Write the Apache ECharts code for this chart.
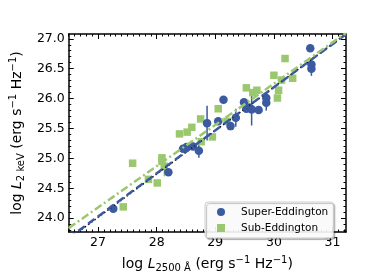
<!DOCTYPE html>
<html><head><meta charset="utf-8">
<script src="https://cdn.jsdelivr.net/npm/echarts@6/dist/echarts.min.js"></script>
<style>html,body{margin:0;padding:0;background:#fff}#c{width:383px;height:278px}</style>
</head><body><div id="c"></div>
<script>
// Super-Eddington sample
const superX   = [27.26, 28.20, 28.45, 28.51, 28.62, 28.72, 28.86, 29.05, 29.14, 29.26, 29.35, 29.49, 29.53, 29.58, 29.62, 29.74, 29.87, 29.87, 30.62, 30.64, 30.64];
const superY   = [24.16, 24.77, 25.16, 25.19, 25.20, 25.13, 25.59, 25.62, 25.98, 25.54, 25.68, 25.94, 25.83, 25.85, 25.82, 25.81, 25.93, 26.01, 26.84, 26.57, 26.50];
const superErr = [0,     0,     0,     0,     0,     0.12,  0.29,  0,     0,     0,     0.15,  0,     0,     0,     0.27,  0,     0.13,  0,     0,     0,     0.12];
// Sub-Eddington sample
const subX   = [27.43, 27.59, 27.86, 28.01, 28.09, 28.09, 28.13, 28.39, 28.52, 28.60, 28.75, 28.76, 28.95, 29.05, 29.20, 29.53, 29.64, 29.71, 30.00, 30.06, 30.08, 30.13, 30.19, 30.32];
const subY   = [24.19, 24.92, 24.65, 24.59, 25.01, 24.95, 24.87, 25.41, 25.44, 25.52, 25.66, 25.28, 25.36, 25.83, 25.62, 26.18, 26.10, 26.14, 26.39, 26.01, 26.14, 26.31, 26.67, 26.34];
const subErr = [0,     0,     0,     0,     0,     0,     0.17,  0,     0,     0,     0,     0,     0,     0,     0,     0,     0,     0,     0,     0,     0,     0,     0,     0];
// regression lines: [slope, value at x=29]
const fitAll   = [0.725, 25.465];
const fitSuper = [0.72, 25.47];
const fitSub   = [0.69, 25.56];
// ticks
const xTicks = [27, 28, 29, 30, 31];
const yTicks = [24.0, 24.5, 25.0, 25.5, 26.0, 26.5, 27.0];

const X_MIN = 26.5, X_MAX = 31.23, Y_MIN = 23.77, Y_MAX = 27.08;
const BLUE = '#3B5AA0', GREEN = '#9BC86E';
const FONT = 'DejaVu Sans';

function minorList(lo, hi, step, majors) {
  const out = [];
  for (let k = Math.ceil(lo / step - 1e-9); k * step <= hi + 1e-9; k++) {
    const v = Math.round(k * step * 100) / 100;
    if (!majors.some(m => Math.abs(m - v) < 1e-6)) out.push(v);
  }
  return out;
}
const xMinor = minorList(X_MIN, X_MAX, 0.1, xTicks);
const yMinor = minorList(Y_MIN, Y_MAX, 0.1, yTicks);

const rich = {
  n: {fontSize: 14, fontFamily: FONT, color: '#000', lineHeight: 18},
  i: {fontSize: 14, fontFamily: FONT, fontStyle: 'italic', color: '#000', lineHeight: 18},
  s: {fontSize: 10, fontFamily: FONT, color: '#000', lineHeight: 10, verticalAlign: 'bottom'},
  p: {fontSize: 10, fontFamily: FONT, color: '#000', lineHeight: 10, verticalAlign: 'top'}
};

function mkAxis(pos, min, max, ticks, len, major, extra) {
  const a = {
    type: 'value', position: pos, min: min, max: max,
    axisLine: {show: major, lineStyle: {color: '#000', width: 1.5}},
    axisTick: {show: true, inside: true, length: len, customValues: ticks, lineStyle: {color: '#000', width: 1}},
    axisLabel: {show: false},
    splitLine: {show: false}
  };
  return Object.assign(a, extra || {});
}

const xAxes = [
  mkAxis('bottom', X_MIN, X_MAX, xTicks, 5, true, {
    axisLabel: {show: true, customValues: xTicks, fontSize: 12.5, fontFamily: FONT, color: '#000', margin: 4},
    name: '{n|log }{i|L}{s|2500 Å}{n| (erg s}{p|−1}{n| Hz}{p|−1}{n|)}',
    nameLocation: 'middle', nameGap: 23, nameTextStyle: {rich: rich}
  }),
  mkAxis('bottom', X_MIN, X_MAX, xMinor, 2.5, false),
  mkAxis('top', X_MIN, X_MAX, xTicks, 5, true),
  mkAxis('top', X_MIN, X_MAX, xMinor, 2.5, false)
];
const yAxes = [
  mkAxis('left', Y_MIN, Y_MAX, yTicks, 5, true, {
    axisLabel: {show: true, customValues: yTicks, fontSize: 12.5, fontFamily: FONT, color: '#000', margin: 4,
      formatter: v => Number(v).toFixed(1)},
    name: '{n|log }{i|L}{s|2 keV}{n| (erg s}{p|−1}{n| Hz}{p|−1}{n|)}',
    nameLocation: 'middle', nameGap: 36, nameRotate: 90, nameTextStyle: {rich: rich}
  }),
  mkAxis('left', Y_MIN, Y_MAX, yMinor, 2.5, false),
  mkAxis('right', Y_MIN, Y_MAX, yTicks, 5, true),
  mkAxis('right', Y_MIN, Y_MAX, yMinor, 2.5, false)
];

function zip3(a, b, c) { return a.map((v, i) => [v, b[i], c[i]]); }
function fitLine(f) { return [X_MIN, X_MAX].map(x => [x, f[1] + f[0] * (x - 29)]); }
function errSeries(xs, ys, es, color) {
  return {
    type: 'custom', z: 2, silent: true, data: zip3(xs, ys, es),
    renderItem: function (params, api) {
      const x = api.value(0), y = api.value(1), e = api.value(2);
      if (!e) return null;
      const p1 = api.coord([x, y - e]), p2 = api.coord([x, y + e]);
      return {type: 'line', shape: {x1: p1[0], y1: p1[1], x2: p2[0], y2: p2[1]},
        style: {stroke: color, lineWidth: 1.5}};
    }
  };
}

const chart = echarts.init(document.getElementById('c'), null, {renderer: 'canvas'});
chart.setOption({
  animation: false,
  backgroundColor: '#fff',
  grid: {left: 48, right: 37, top: 34, bottom: 35, containLabel: false},
  xAxis: xAxes,
  yAxis: yAxes,
  legend: {
    orient: 'vertical', left: 205, top: 202,
    data: [{name: 'Super-Eddington', icon: 'circle'}, {name: 'Sub-Eddington', icon: 'rect'}],
    itemWidth: 8, itemHeight: 8, itemGap: 4,
    padding: [4, 5, 4, 12],
    formatter: name => '{sp| }{t|' + name + '}',
    textStyle: {fontSize: 10.5, fontFamily: FONT, color: '#000', lineHeight: 12,
      rich: {sp: {width: 11, lineHeight: 12, fontSize: 10.5},
             t: {fontSize: 10.5, fontFamily: FONT, color: '#000', lineHeight: 12}}},
    backgroundColor: 'rgba(255,255,255,0.9)', borderColor: '#cccccc', borderWidth: 1, borderRadius: 3,
    shadowColor: 'rgba(0,0,0,0.25)', shadowBlur: 1, shadowOffsetX: 1.5, shadowOffsetY: 1.5
  },
  series: [
    errSeries(subX, subY, subErr, GREEN),
    errSeries(superX, superY, superErr, BLUE),
    {name: 'Sub-Eddington', type: 'scatter', z: 3, symbol: 'rect', symbolSize: 7.5,
      itemStyle: {color: GREEN, opacity: 1}, data: subX.map((x, i) => [x, subY[i]])},
    {name: 'Super-Eddington', type: 'scatter', z: 3, symbol: 'circle', symbolSize: 8.5,
      itemStyle: {color: BLUE, opacity: 1}, data: superX.map((x, i) => [x, superY[i]])},
    {type: 'line', z: 4, silent: true, symbol: 'none', data: fitLine(fitAll),
      lineStyle: {color: '#000', width: 1.5, type: [1.5, 2.5]}},
    {type: 'line', z: 5, silent: true, symbol: 'none', data: fitLine(fitSuper),
      lineStyle: {color: BLUE, width: 2.5, type: [8, 4]}},
    {type: 'line', z: 5, silent: true, symbol: 'none', data: fitLine(fitSub),
      lineStyle: {color: GREEN, width: 2.5, type: [8, 3, 2, 3]}}
  ]
});
</script></body></html>
